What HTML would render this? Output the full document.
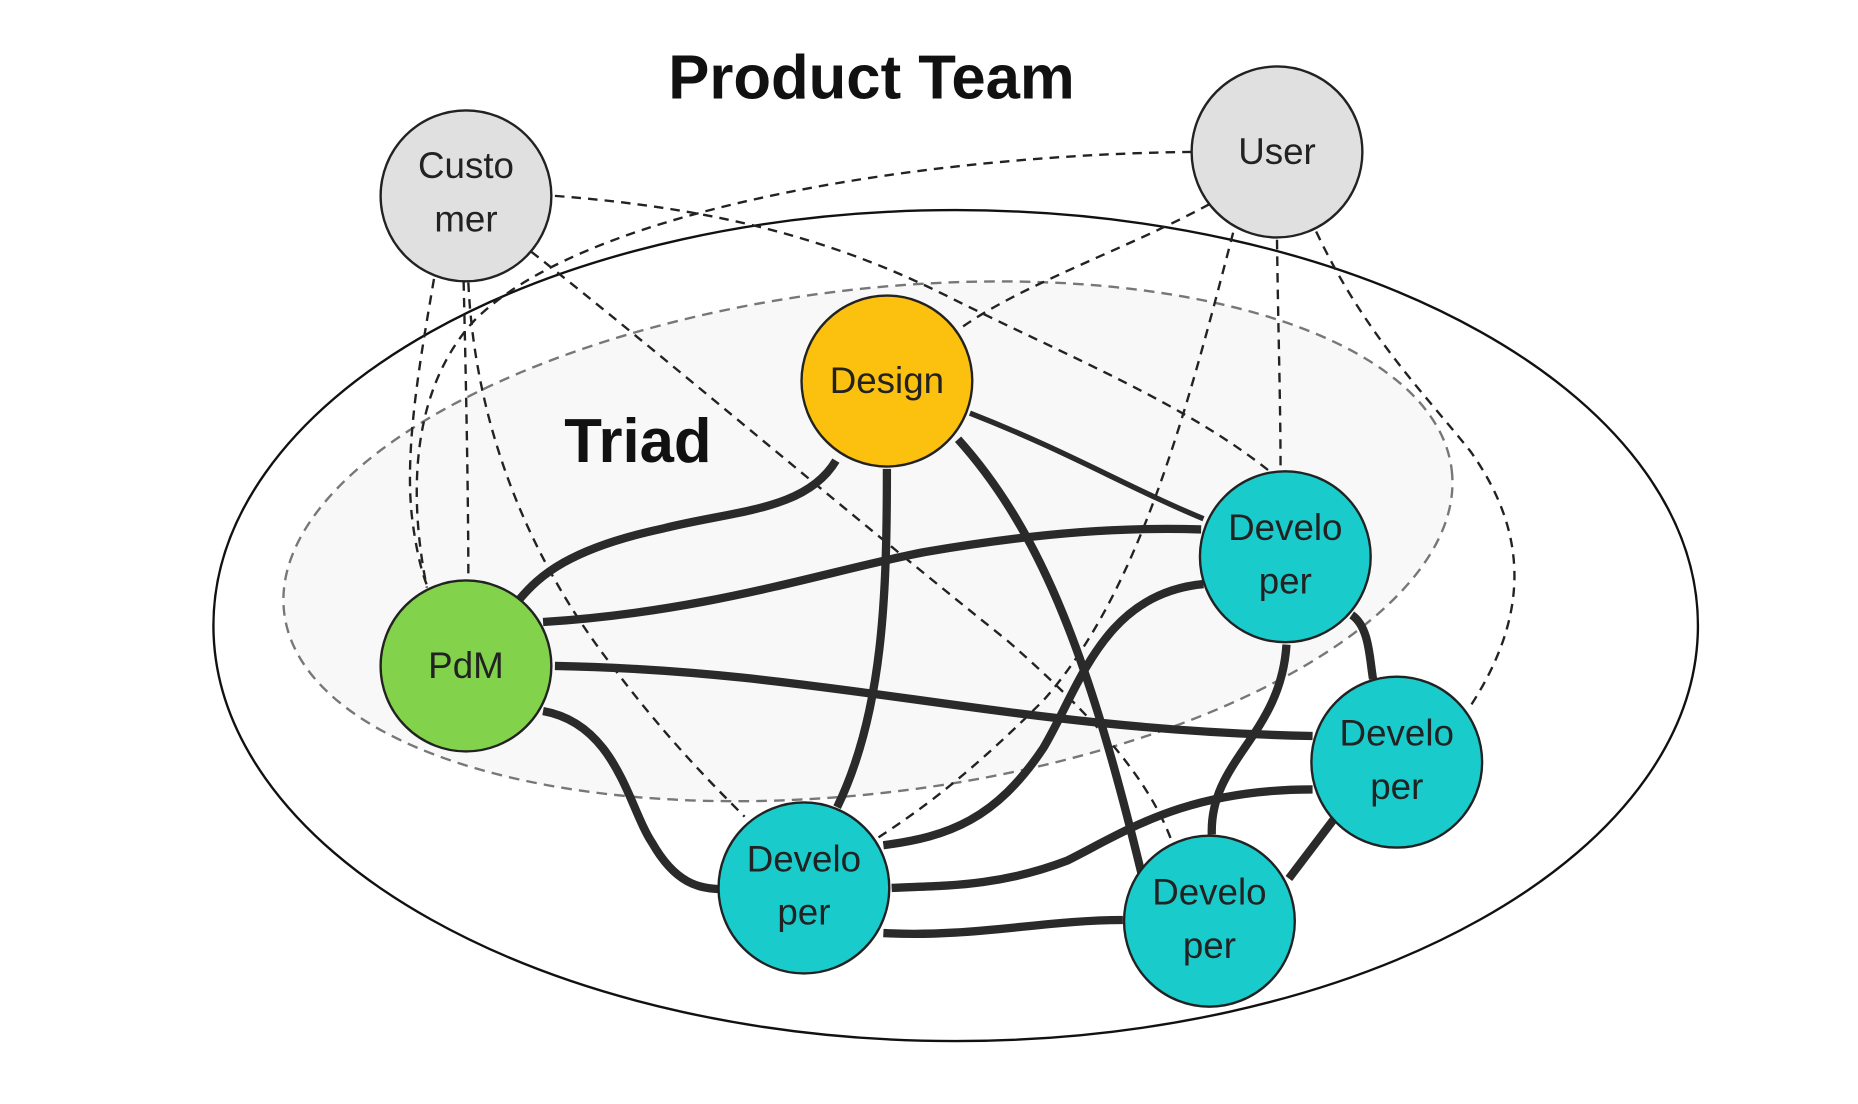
<!DOCTYPE html>
<html><head><meta charset="utf-8"><style>
html,body{margin:0;padding:0;background:#fff;}
svg{display:block;}
text{font-family:"Liberation Sans",sans-serif;}
</style></head><body>
<svg width="1858" height="1104" viewBox="0 0 1567 930" preserveAspectRatio="none" xmlns="http://www.w3.org/2000/svg">
<rect width="1570" height="935" fill="#fff"/>
<ellipse cx="806" cy="527" rx="626" ry="350" fill="#fff" stroke="#111" stroke-width="2"/>
<ellipse cx="732" cy="456" rx="496" ry="212" transform="rotate(-7 732 456)" fill="#f8f8f8" stroke="#777" stroke-width="2" stroke-dasharray="9 6"/>
<g fill="none" stroke="#222" stroke-width="2" stroke-dasharray="8 6">
<path d="M366,235 C355,300 340,380 348,440 C352,470 358,490 362,497"/>
<path d="M391,237 C393,320 395,420 395,490"/>
<path d="M395,238 C400,350 440,460 511,554 C560,620 600,660 628,688"/>
<path d="M448,212 C560,300 700,420 850,540 C930,610 970,660 988,708"/>
<path d="M468,165 C600,175 700,200 800,250 C900,300 1000,340 1072,398"/>
<path d="M1005,128 C800,130 500,170 400,270 C345,330 345,420 360,495"/>
<path d="M1020,172 C950,210 860,240 808,278"/>
<path d="M1040,196 C1000,350 960,500 880,590 C820,650 780,680 740,706"/>
<path d="M1077,202 C1078,280 1080,340 1080,398"/>
<path d="M1110,195 C1150,280 1200,330 1240,380 C1290,450 1290,520 1238,598"/>
</g>
<g fill="none" stroke="#2a2a2a" stroke-width="7" stroke-linecap="butt">
<path d="M705,388 C680,430 620,430 560,445 C480,462 455,485 438,505"/>
<path d="M748,395 C748,500 745,600 706,680"/>
<path d="M808,370 C880,450 920,560 963,737"/>
<path d="M818,348 C900,380 950,410 1015,437" stroke-width="4.5"/>
<path d="M458,524 C600,515 700,480 780,465 C880,448 950,444 1013,446"/>
<path d="M468,561 C700,565 850,615 1107,620"/>
<path d="M458,599 C520,610 530,680 550,710 C570,745 590,748 606,749"/>
<path d="M1015,492 C930,500 910,580 880,630 C840,690 800,705 745,712"/>
<path d="M1140,518 C1155,528 1155,555 1158,572"/>
<path d="M1085,543 C1080,620 1020,640 1022,703"/>
<path d="M1107,665 C1000,665 950,700 900,725 C840,748 790,746 752,748"/>
<path d="M1125,690 L1087,740"/>
<path d="M745,786 C820,790 880,775 947,775"/>
</g>
<g stroke="#222" stroke-width="2">
<circle cx="393" cy="165" r="72" fill="#e0e0e0"/>
<circle cx="1077" cy="128" r="72" fill="#e0e0e0"/>
<circle cx="748" cy="321" r="72" fill="#fcc10f"/>
<circle cx="393" cy="561" r="72" fill="#82d34b"/>
<circle cx="1084" cy="469" r="72" fill="#1acbcc"/>
<circle cx="1178" cy="642" r="72" fill="#1acbcc"/>
<circle cx="678" cy="748" r="72" fill="#1acbcc"/>
<circle cx="1020" cy="776" r="72" fill="#1acbcc"/>
</g>
<g font-size="31" fill="#222" text-anchor="middle">
<text x="393" y="150">Custo</text><text x="393" y="195">mer</text>
<text x="1077" y="138">User</text>
<text x="748" y="331">Design</text>
<text x="393" y="571">PdM</text>
<text x="1084" y="455">Develo</text><text x="1084" y="500">per</text>
<text x="1178" y="628">Develo</text><text x="1178" y="673">per</text>
<text x="678" y="734">Develo</text><text x="678" y="779">per</text>
<text x="1020" y="762">Develo</text><text x="1020" y="807">per</text>
</g>
<text x="735" y="83" font-size="52" font-weight="bold" fill="#111" text-anchor="middle">Product Team</text>
<text x="538" y="389" font-size="52" font-weight="bold" fill="#111" text-anchor="middle">Triad</text>
</svg>
</body></html>
